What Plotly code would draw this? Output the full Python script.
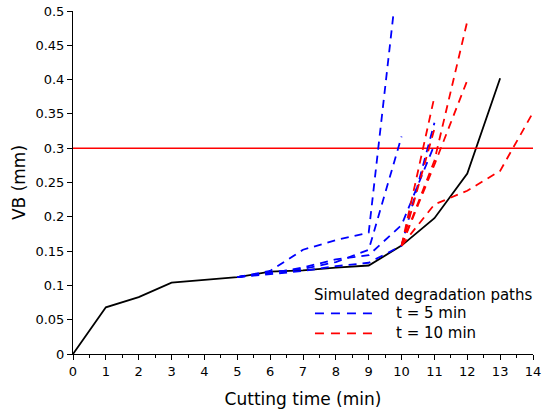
import plotly.graph_objects as go

# Measured tool wear (flank wear VB) over cutting time
time_meas = [0, 1, 2, 3, 4, 5, 6, 7, 8, 9, 10, 11, 12, 13]
vb_meas = [0.0, 0.068, 0.083, 0.104, 0.108, 0.112, 0.120, 0.122, 0.126, 0.129, 0.158, 0.198, 0.263, 0.402]

# Simulated degradation paths started at t = 5 min
time_5 = [
    [5, 6, 7, 8, 9, 10],
    [5, 6, 7, 8, 9, 10],
    [5, 6, 7, 8, 9, 10, 11],
    [5, 6, 7, 8, 9, 10, 11],
]
vb_5 = [
    [0.112, 0.121, 0.152, 0.166, 0.177, 0.600],
    [0.112, 0.119, 0.124, 0.134, 0.152, 0.317],
    [0.112, 0.117, 0.121, 0.128, 0.133, 0.158, 0.337],
    [0.112, 0.118, 0.126, 0.138, 0.144, 0.188, 0.305],
]

# Simulated degradation paths started at t = 10 min
time_10 = [
    [10, 11, 12],
    [10, 11],
    [10, 11, 12],
    [10, 11, 12, 13, 14],
    [10, 11],
]
vb_10 = [
    [0.158, 0.282, 0.485],
    [0.158, 0.375],
    [0.158, 0.276, 0.399],
    [0.158, 0.218, 0.238, 0.267, 0.352],
    [0.158, 0.328],
]

threshold_t = [0, 14]
threshold_vb = [0.3, 0.3]

x_ticks = list(range(0, 15))
y_ticks = [0, 0.05, 0.1, 0.15, 0.2, 0.25, 0.3, 0.35, 0.4, 0.45, 0.5]
y_tick_labels = ["0", "0.05", "0.1", "0.15", "0.2", "0.25", "0.3", "0.35", "0.4", "0.45", "0.5"]

legend_title = "Simulated degradation paths"
legend_labels = ["t = 5 min", "t = 10 min"]
legend_colors = ["#0000ff", "#ff0000"]

FONT = "DejaVu Sans"
DASH = "8px,6px"

fig = go.Figure()

fig.add_trace(go.Scatter(
    x=time_meas, y=vb_meas, mode="lines",
    line=dict(color="black", width=1.8), showlegend=False,
))

fig.add_trace(go.Scatter(
    x=threshold_t, y=threshold_vb, mode="lines",
    line=dict(color="#ff0000", width=1.5), showlegend=False,
))

for t, v in zip(time_5, vb_5):
    fig.add_trace(go.Scatter(
        x=t, y=v, mode="lines",
        line=dict(color=legend_colors[0], width=1.8, dash=DASH),
        name=legend_labels[0], showlegend=False,
    ))

for t, v in zip(time_10, vb_10):
    fig.add_trace(go.Scatter(
        x=t, y=v, mode="lines",
        line=dict(color=legend_colors[1], width=1.8, dash=DASH),
        name=legend_labels[1], showlegend=False,
    ))

# Borderless legend block in the lower right of the axes
fig.add_annotation(
    xref="paper", yref="paper", x=0.519, y=0.172,
    xanchor="left", yanchor="middle", showarrow=False,
    text=legend_title, font=dict(size=15, family=FONT, color="black"),
)
for k, (lab, col) in enumerate(zip(legend_labels, legend_colors)):
    yk = 0.1186 - 0.0583 * k
    fig.add_shape(
        type="line", xref="paper", yref="paper",
        x0=0.526, x1=0.652, y0=yk, y1=yk,
        line=dict(color=col, width=1.8, dash="9px,7px"),
    )
    fig.add_annotation(
        xref="paper", yref="paper", x=0.697, y=yk,
        xanchor="left", yanchor="middle", showarrow=False,
        text=lab, font=dict(size=15, family=FONT, color="black"),
    )

fig.update_layout(
    width=542, height=418,
    margin=dict(l=73, r=9, t=11, b=64),
    plot_bgcolor="white", paper_bgcolor="white",
    font=dict(family=FONT, size=13, color="black"),
    showlegend=False,
)

fig.update_xaxes(
    range=[0, 14], tickvals=x_ticks, automargin=False,
    showgrid=False, zeroline=False,
    showline=True, linecolor="black", linewidth=1,
    ticks="outside", ticklen=5, tickcolor="black",
    minor=dict(ticks="outside", ticklen=3, dtick=0.5, tickcolor="black"),
    tickfont=dict(size=13, family=FONT),
    title=dict(text="Cutting time (min)", font=dict(size=17, family=FONT)),
)

fig.update_yaxes(
    range=[0, 0.5], tickvals=y_ticks, ticktext=y_tick_labels, automargin="left",
    showgrid=False, zeroline=False,
    showline=True, linecolor="black", linewidth=1,
    ticks="outside", ticklen=5, tickcolor="black",
    tickfont=dict(size=13, family=FONT),
    title=dict(text="VB (mm)", font=dict(size=17, family=FONT), standoff=5),
)

fig.write_html("out.html")
